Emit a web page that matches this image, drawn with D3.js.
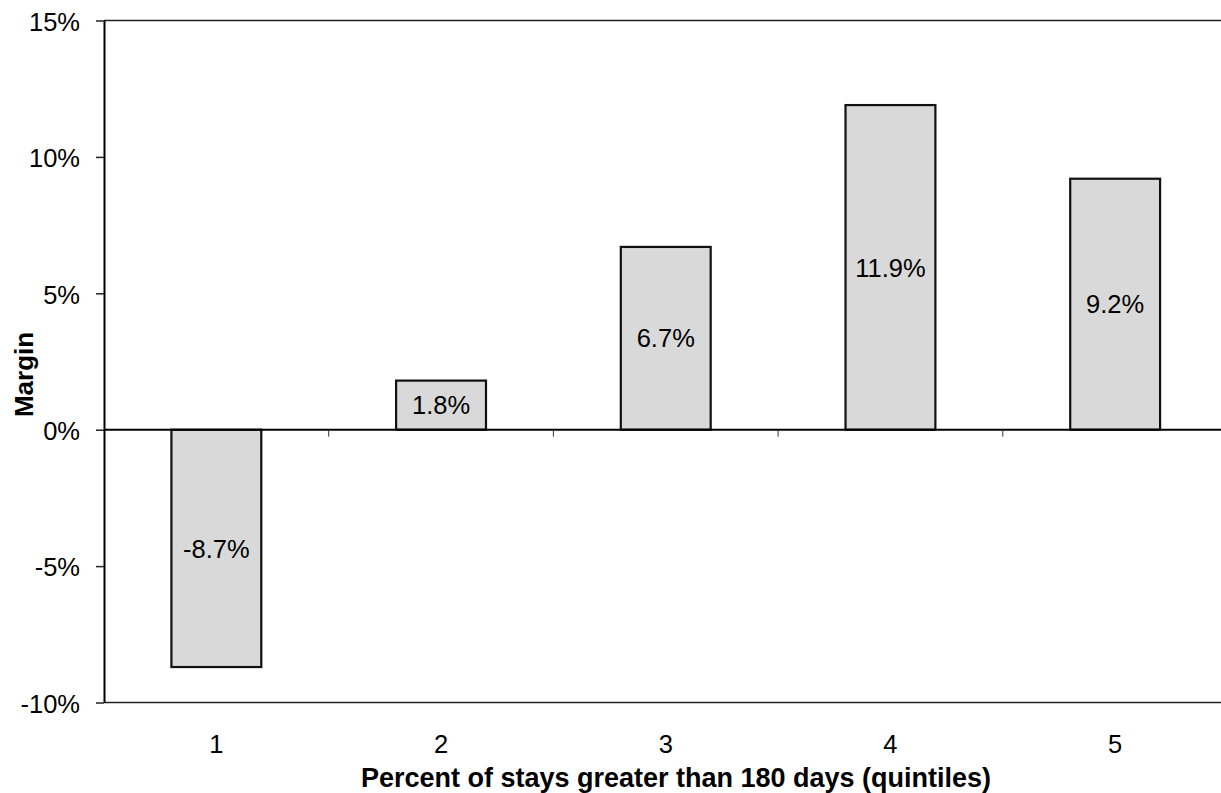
<!DOCTYPE html>
<html>
<head>
<meta charset="utf-8">
<script src="https://cdn.jsdelivr.net/npm/d3@7"></script>
<style>
  html, body { margin: 0; padding: 0; background: #fff; }
  svg { display: block; font-family: "Liberation Sans", Arial, sans-serif; }
</style>
</head>
<body>
<svg id="chart" width="1221" height="793"></svg>
<script>
const categories = ["1", "2", "3", "4", "5"];
const values = [-8.7, 1.8, 6.7, 11.9, 9.2];
const yTicks = [-10, -5, 0, 5, 10, 15];
const xTitle = "Percent of stays greater than 180 days (quintiles)";
const yTitle = "Margin";

(function () {
const svg = d3.select("#chart");
const pLeft = 104, pRight = 1227.5, pTop = 20.5, pBottom = 702.5;

const x = d3.scaleBand().domain(categories).range([pLeft, pRight]).paddingInner(0.6).paddingOuter(0.3);
const y = d3.scaleLinear().domain([-10, 15]).range([pBottom, pTop]);

// top & bottom border lines
svg.append("line").attr("x1", pLeft).attr("x2", pRight).attr("y1", y(15)).attr("y2", y(15))
  .attr("stroke", "#222").attr("stroke-width", 1.7);
svg.append("line").attr("x1", pLeft).attr("x2", pRight).attr("y1", y(-10)).attr("y2", y(-10))
  .attr("stroke", "#222").attr("stroke-width", 1.7);

// bars
svg.append("g").selectAll("rect").data(values).join("rect")
  .attr("x", (d, i) => x(categories[i]))
  .attr("width", x.bandwidth())
  .attr("y", d => y(Math.max(0, d)))
  .attr("height", d => Math.abs(y(d) - y(0)))
  .attr("fill", "#d9d9d9")
  .attr("stroke", "#111")
  .attr("stroke-width", 2.2);

// bar labels centered in bar
svg.append("g").selectAll("text").data(values).join("text")
  .attr("x", (d, i) => x(categories[i]) + x.bandwidth() / 2)
  .attr("y", d => (y(d) + y(0)) / 2)
  .attr("dy", "0.36em")
  .attr("text-anchor", "middle")
  .attr("font-size", 25.5)
  .attr("fill", "#000")
  .text(d => d.toFixed(1) + "%");

// zero line
svg.append("line").attr("x1", pLeft).attr("x2", pRight).attr("y1", y(0)).attr("y2", y(0))
  .attr("stroke", "#000").attr("stroke-width", 2);

// boundary ticks on zero line
const step = x.step();
const boundaries = categories.slice(0, -1).map(c => x(c) + x.bandwidth() / 2 + step / 2);
svg.append("g").selectAll("line").data(boundaries).join("line")
  .attr("x1", d => d).attr("x2", d => d)
  .attr("y1", y(0)).attr("y2", y(0) + 7)
  .attr("stroke", "#333").attr("stroke-width", 1);

// y axis
const yAxis = svg.append("g").attr("transform", `translate(${pLeft},0)`)
  .call(d3.axisLeft(y).tickValues(yTicks).tickFormat(d => d + "%").tickSize(8).tickSizeOuter(0).tickPadding(16));
yAxis.select(".domain").attr("stroke", "#000").attr("stroke-width", 2);
yAxis.selectAll(".tick line").attr("stroke", "#222").attr("stroke-width", 1.5);
yAxis.selectAll(".tick text").attr("font-size", 25.5).attr("fill", "#000")
  .attr("font-family", "Liberation Sans, Arial, sans-serif").attr("dy", "0.38em");

// x category labels
const xAxis = svg.append("g").attr("transform", `translate(0,${pBottom})`)
  .call(d3.axisBottom(x).tickSize(0).tickPadding(32));
xAxis.select(".domain").remove();
xAxis.selectAll(".tick text").attr("font-size", 25.5).attr("fill", "#000")
  .attr("font-family", "Liberation Sans, Arial, sans-serif");

// axis titles
svg.append("text")
  .attr("x", 676).attr("y", 787)
  .attr("text-anchor", "middle")
  .attr("font-size", 27).attr("font-weight", "bold")
  .text(xTitle);

svg.append("text")
  .attr("transform", `translate(33,${(332 + 417) / 2}) rotate(-90)`)
  .attr("text-anchor", "middle")
  .attr("font-size", 26).attr("font-weight", "bold")
  .text(yTitle);
})();
</script>
</body>
</html>
